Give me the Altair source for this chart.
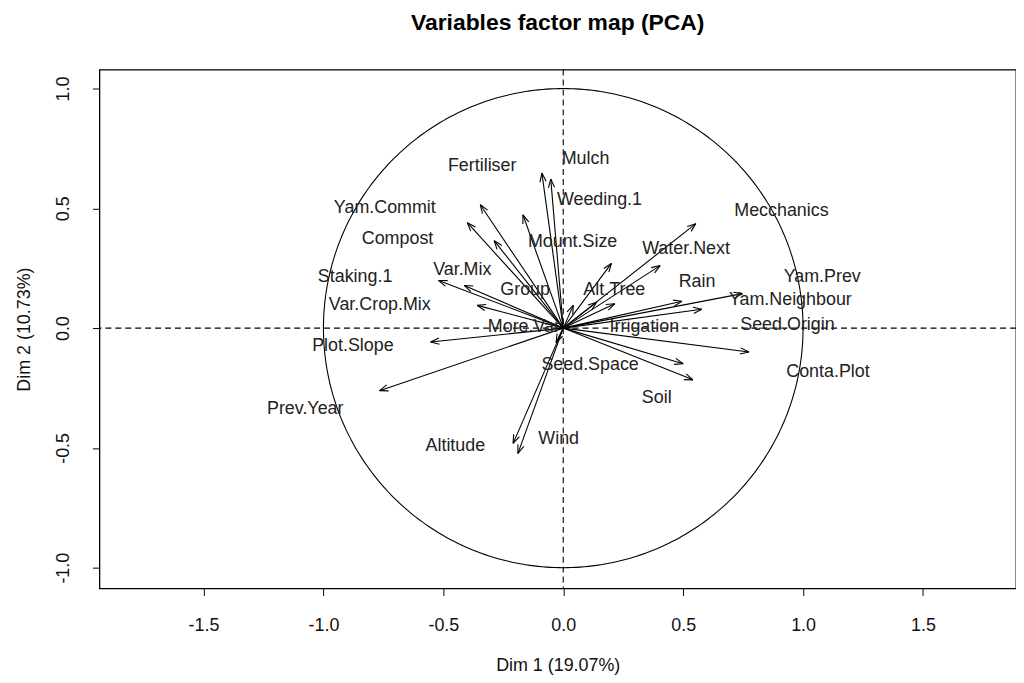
import numpy as np
import pandas as pd
import altair as alt

# Variable names and their coordinates on Dim 1 / Dim 2 (arrow tips)
names = ["Mulch", "Weeding.1", "Fertiliser", "Mount.Size", "Yam.Commit", "Compost",
         "Var.Mix", "Staking.1", "Var.Crop.Mix", "Group", "More.Var", "Plot.Slope",
         "Prev.Year", "Altitude", "Wind", "Seed.Space", "Mecchanics", "Water.Next",
         "Alt.Tree", "Rain", "Yam.Prev", "Yam.Neighbour", "Irrigation", "Seed.Origin",
         "Conta.Plot", "Soil"]
dim1 = [-0.089, -0.052, -0.346, -0.168, -0.400, -0.288,
        -0.520, -0.413, -0.359, 0.042, 0.139, -0.553,
        -0.766, -0.209, -0.189, -0.030, 0.553, 0.404,
        0.201, 0.495, 0.747, 0.578, 0.215, 0.500,
        0.774, 0.541]
dim2 = [0.647, 0.622, 0.515, 0.473, 0.440, 0.365,
        0.199, 0.178, 0.095, 0.095, 0.108, -0.058,
        -0.261, -0.481, -0.523, -0.060, 0.436, 0.261,
        0.270, 0.112, 0.144, 0.079, 0.102, -0.149,
        -0.100, -0.216]

# Label positions (as placed by the automatic labelling)
label_x = [0.093, 0.151, -0.338, 0.039, -0.744, -0.691,
           -0.421, -0.868, -0.765, -0.159, -0.164, -0.877,
           -1.076, -0.450, -0.019, 0.112, 0.910, 0.512,
           0.213, 0.558, 1.080, 0.947, 0.338, 0.935,
           1.104, 0.390]
label_y = [0.705, 0.535, 0.676, 0.361, 0.501, 0.373,
           0.241, 0.212, 0.095, 0.158, 0.004, -0.075,
           -0.336, -0.494, -0.465, -0.154, 0.490, 0.332,
           0.158, 0.191, 0.212, 0.116, 0.004, 0.012,
           -0.183, -0.290]

x_ticks = [-1.5, -1.0, -0.5, 0.0, 0.5, 1.0, 1.5]
y_ticks = [-1.0, -0.5, 0.0, 0.5, 1.0]

X_DOM = [-1.934, 1.888]
Y_DOM = [-1.087, 1.079]

df = pd.DataFrame({"name": names, "x": dim1, "y": dim2,
                   "lx": label_x, "ly": label_y})
df["x0"] = 0.0
df["y0"] = 0.0

# arrow heads (open V), derived from arrow directions
L = 0.038
phi = np.deg2rad(20)
ang = np.arctan2(df["y"], df["x"])
heads = []
for s in (-1, 1):
    h = pd.DataFrame({
        "x": df["x"], "y": df["y"],
        "hx": df["x"] - L * np.cos(ang + s * phi),
        "hy": df["y"] - L * np.sin(ang + s * phi),
    })
    heads.append(h)
heads = pd.concat(heads, ignore_index=True)

# unit correlation circle
t = np.linspace(0, 2 * np.pi, 361)
circ = pd.DataFrame({"cx": np.cos(t), "cy": np.sin(t), "o": np.arange(len(t))})

FONT = "Liberation Sans"
LABEL_EXPR = ("datum.value < 0 ? '-' + format(-datum.value, '.1f') "
              ": format(datum.value, '.1f')")

xs = alt.Scale(domain=X_DOM, nice=False, zero=False)
ys = alt.Scale(domain=Y_DOM, nice=False, zero=False)

x_axis = alt.Axis(values=x_ticks, labelExpr=LABEL_EXPR, title="Dim 1 (19.07%)",
                  grid=False, domain=False, tickSize=7, tickColor="black",
                  labelFontSize=18, labelFont=FONT, labelColor="#111",
                  labelPadding=21, titleFont=FONT, titleFontSize=18,
                  titleFontWeight="normal", titleColor="#111", titlePadding=22)
y_axis = alt.Axis(values=y_ticks, labelExpr=LABEL_EXPR, title="Dim 2 (10.73%)",
                  grid=False, domain=False, tickSize=7, tickColor="black",
                  labelFontSize=18, labelFont=FONT, labelColor="#111",
                  labelAngle=270, labelAlign="center", labelBaseline="bottom",
                  labelPadding=20, titleFont=FONT, titleFontSize=18,
                  titleFontWeight="normal", titleColor="#111", titlePadding=21)

base = alt.Chart(df)

circle = alt.Chart(circ).mark_line(color="black", strokeWidth=1.1, clip=True).encode(
    x=alt.X("cx:Q", scale=xs, axis=x_axis),
    y=alt.Y("cy:Q", scale=ys, axis=y_axis),
    order="o:Q",
)

hline = alt.Chart(pd.DataFrame({"v": [0.0]})).mark_rule(
    color="black", strokeDash=[6, 4], strokeWidth=1.1).encode(y=alt.Y("v:Q", scale=ys))
vline = alt.Chart(pd.DataFrame({"v": [0.0]})).mark_rule(
    color="black", strokeDash=[6, 4], strokeWidth=1.1).encode(x=alt.X("v:Q", scale=xs))

shafts = base.mark_rule(color="black", strokeWidth=1.1).encode(
    x=alt.X("x0:Q", scale=xs), y=alt.Y("y0:Q", scale=ys),
    x2="x:Q", y2="y:Q",
)

head_marks = alt.Chart(heads).mark_rule(color="black", strokeWidth=1.1).encode(
    x=alt.X("x:Q", scale=xs), y=alt.Y("y:Q", scale=ys),
    x2="hx:Q", y2="hy:Q",
)

labels = base.mark_text(font=FONT, fontSize=18, color="#222").encode(
    x=alt.X("lx:Q", scale=xs), y=alt.Y("ly:Q", scale=ys), text="name:N",
)

chart = alt.layer(circle, hline, vline, shafts, head_marks, labels).properties(
    width=922, height=522,
    title=alt.TitleParams("Variables factor map (PCA)", font=FONT, fontSize=23,
                          fontWeight="bold", color="black", anchor="middle",
                          offset=34),
    padding={"left": 92, "top": 60, "right": 0, "bottom": 85},
    autosize=alt.AutoSizeParams(type="none"),
).configure(background="white", view=alt.ViewConfig(stroke="black", strokeWidth=1.3))

chart.save("out.html", embed_options={"renderer": "svg", "actions": False})
